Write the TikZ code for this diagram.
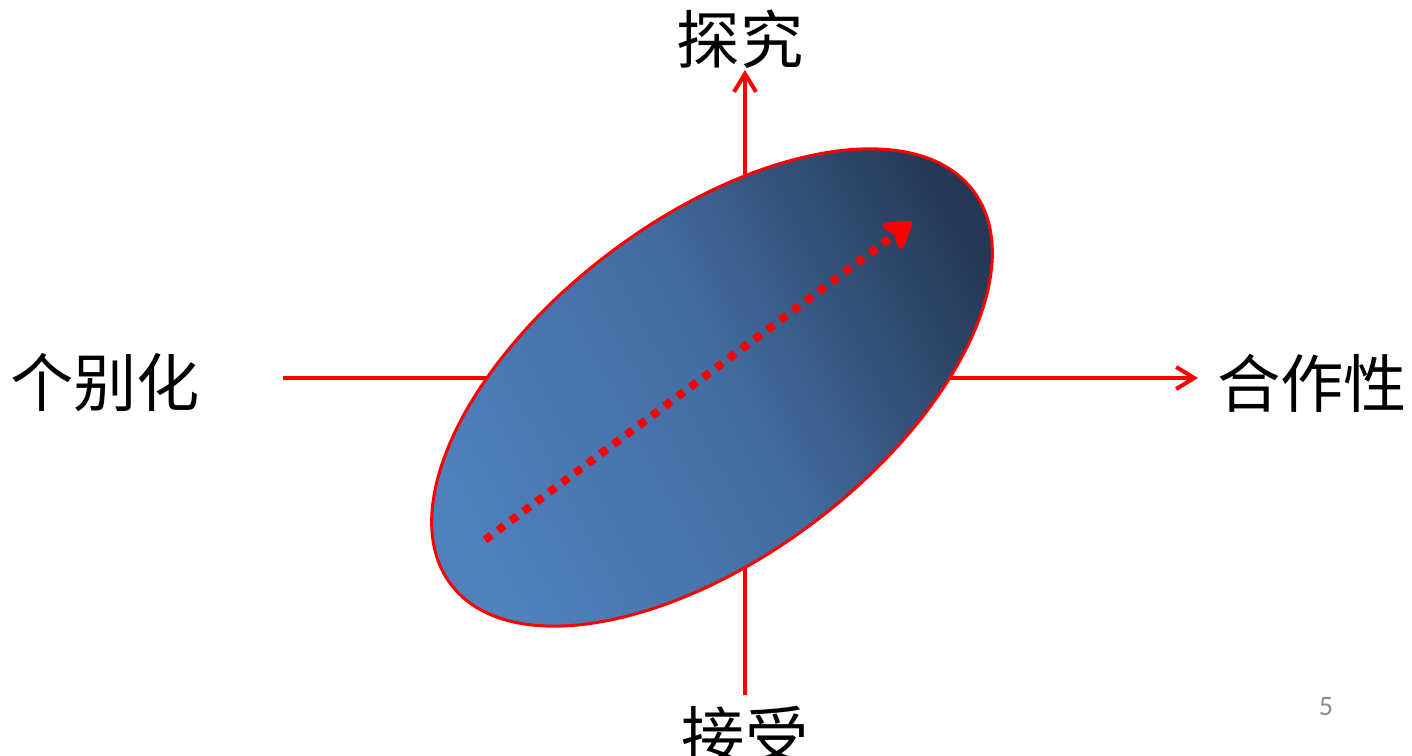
\documentclass[tikz,border=0pt]{standalone}
\usepackage{fontspec}
\newfontfamily\cjk{Noto Sans CJK SC}
\newfontfamily\pagefont{Carlito}
\usepackage{tikz}
\usetikzlibrary{
  arrows.meta,
  positioning,
  shapes.geometric
}
\definecolor{discLight}{RGB}{79,129,189}
\definecolor{discMid}{RGB}{67,109,162}
\definecolor{discDark}{RGB}{37,56,84}
\definecolor{pageGray}{RGB}{140,140,140}

\begin{document}
\begin{tikzpicture}[
      axisline/.style={red, line width=0.08cm, -{Straight Barb[length=0.36cm, width=0.44cm]}},
      pole/.style={font=\cjk\fontsize{36}{40}\selectfont, inner sep=0pt},
      every node/.style={transform shape}
  ]
      \useasboundingbox (0,0) rectangle (28.24,15.10);

      % Extremos dos eixos
      \coordinate (xstart) at (5.66,7.54);
      \coordinate (xend) at (23.96,7.54);
      \coordinate (ystart) at (14.90,1.20);
      \coordinate (yend) at (14.90,13.70);

      % Eixos
      \draw[axisline] (xstart) -- (xend);
      \draw[axisline] (ystart) -- (yend);

      % Elipse com gradiente
      \node[ellipse, draw=red, line width=0.06cm, inner sep=0pt,
            minimum width=13.08cm, minimum height=6.76cm, rotate=37,
            top color=discDark, bottom color=discLight, middle color=discMid,
            shading angle=-62]
            (disc) at (14.24,7.35) {};

      % Seta pontilhada
      \coordinate (flowstart) at (9.70,4.30);
      \coordinate (flowend) at (18.24,10.66);
      \draw[red, line width=0.16cm, dash pattern=on 0.16cm off 0.16cm,
            -{Stealth[length=0.62cm, width=0.76cm, inset=0.12cm, round]}]
            (flowstart) -- (flowend);

      % Rótulos dos polos
      \node[pole] (top) at (14.80,14.32) {探究};
      \node[pole] (bottom) at (14.90,0.40) {接受};
      \node[pole] (left) at (2.10,7.44) {个别化};
      \node[pole] (right) at (26.24,7.44) {合作性};

      % Número da página
      \node[font=\pagefont\fontsize{16}{18}\selectfont, text=pageGray, inner sep=0pt] (pagenum) at (26.52,0.96) {5};

  \end{tikzpicture}
\end{document}
